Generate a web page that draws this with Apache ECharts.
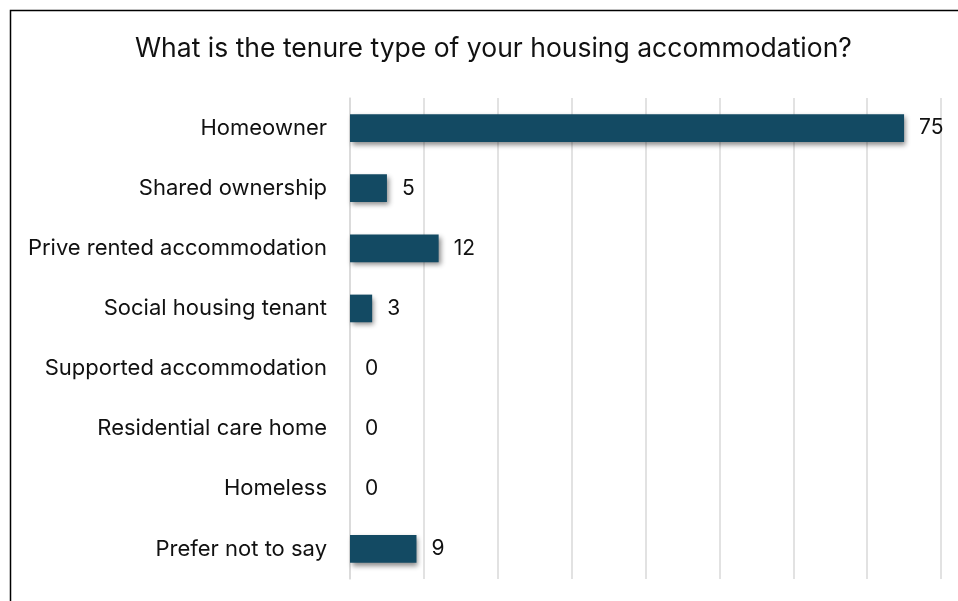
<!DOCTYPE html>
<html>
<head>
<meta charset="UTF-8">
<title>Housing tenure</title>
<script src="https://cdn.jsdelivr.net/npm/echarts@6/dist/echarts.min.js"></script>
</head>
<body style="margin:0;background:#fff;">
<div id="main" style="width:958px;height:601px;"></div>
<script type="text/javascript">
// categories top to bottom
var categories = ['Homeowner', 'Shared ownership', 'Prive rented accommodation', 'Social housing tenant',
	'Supported accommodation', 'Residential care home', 'Homeless', 'Prefer not to say'];
var counts = [75, 5, 12, 3, 0, 0, 0, 9];

var font = 'Inter, "Noto Sans", sans-serif';
var myChart = echarts.init(document.getElementById('main'));
myChart.setOption({
	backgroundColor: '#fff',
	animation: false,
	title: {
		text: 'What is the tenure type of your housing accommodation?',
		left: 130,
		top: 31,
		textStyle: { fontFamily: font, fontSize: 26.5, fontWeight: 'normal', color: '#111' }
	},
	graphic: [{
		type: 'rect',
		shape: { x: 10.5, y: 10.5, width: 980, height: 700 },
		style: { fill: 'none', stroke: '#000', lineWidth: 1.5 },
		silent: true
	}],
	grid: { left: 350, right: 17, top: 98, bottom: 22 },
	xAxis: {
		type: 'value',
		min: 0,
		max: 80,
		interval: 10,
		axisLabel: { show: false },
		axisTick: { show: false },
		axisLine: { show: false },
		splitLine: { lineStyle: { color: '#d9d9d9', width: 1.5 } }
	},
	yAxis: {
		type: 'category',
		inverse: true,
		data: categories,
		axisTick: { show: false },
		axisLine: { lineStyle: { color: '#d9d9d9', width: 1.5 } },
		axisLabel: { margin: 23, fontFamily: font, fontSize: 22, color: '#111' }
	},
	series: [{
		type: 'bar',
		data: counts,
		barCategoryGap: '54%',
		itemStyle: {
			color: '#134a63',
			shadowColor: 'rgba(0,0,0,0.45)',
			shadowBlur: 5,
			shadowOffsetX: 2,
			shadowOffsetY: 3
		},
		label: {
			show: true,
			position: 'right',
			distance: 15,
			fontFamily: font,
			fontSize: 21,
			color: '#111'
		}
	}]
});
</script>
</body>
</html>
